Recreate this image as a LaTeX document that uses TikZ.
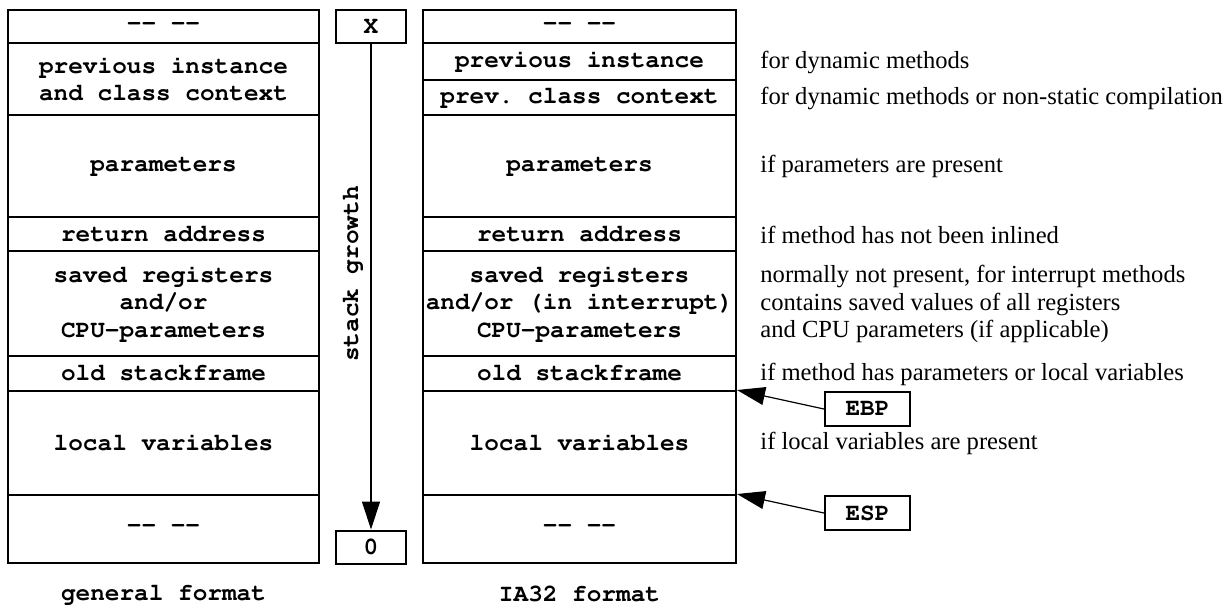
\documentclass[tikz,border=0pt]{standalone}
\usepackage[T1]{fontenc}
\usepackage{fontspec}
\setmainfont{Liberation Serif}
\usetikzlibrary{arrows.meta}
\newcommand\courbf{\fontencoding{T1}\fontfamily{pcr}\fontseries{b}\fontsize{12.2}{13.8}\selectfont\frenchspacing}

\begin{document}
\begin{tikzpicture}[
    x=0.5pt, y=-0.5pt,
    cell/.style={rectangle, draw, line width=1pt, inner sep=0pt, align=center, font=\courbf},
    gcell/.style={cell, minimum width=155.5pt},
    icell/.style={cell, minimum width=156.5pt},
    tag/.style={cell, minimum width=35pt, minimum height=16.5pt},
    note/.style={anchor=west, inner sep=0pt, align=left, font=\fontsize{12.3}{13.8}\selectfont},
    arr/.style={-{Triangle[length=14pt, width=9pt]}, line width=0.6pt},
  ]
  \useasboundingbox (0,0) rectangle (1229,607);

  % general format
  \node[gcell, minimum height=16.5pt] (g-free) at (163.5,26.5) {-{}- -{}-};
  \node[gcell, minimum height=36pt] (g-ctx) at (163.5,79) {previous instance\\and class context};
  \node[gcell, minimum height=51pt] (g-par) at (163.5,166) {parameters};
  \node[gcell, minimum height=17pt] (g-ret) at (163.5,234) {return address};
  \node[gcell, minimum height=52.5pt] (g-reg) at (163.5,303.5) {saved registers\\and/or\\CPU-parameters};
  \node[gcell, minimum height=17.5pt] (g-old) at (163.5,373.5) {old stackframe};
  \node[gcell, minimum height=52pt] (g-loc) at (163.5,443) {local variables};
  \node[gcell, minimum height=34pt] (g-end) at (163.5,529) {-{}- -{}-};
  \node[cell, draw=none] (g-title) at (163.5,594) {general format};

  % stack growth
  \node[tag] (top) at (371,26.5) {X};
  \node[tag] (zero) at (371,547) {0};
  \node[cell, draw=none, rotate=90] (growth) at (352,274) {stack growth};
  \draw[arr] (top) -- (zero);

  % IA32 format
  \node[icell, minimum height=16.5pt] (i-free) at (579.5,26.5) {-{}- -{}-};
  \node[icell, minimum height=18.5pt] (i-inst) at (579.5,61.5) {previous instance};
  \node[icell, minimum height=17.5pt] (i-cls) at (579.5,97.5) {prev. class context};
  \node[icell, minimum height=51pt] (i-par) at (579.5,166) {parameters};
  \node[icell, minimum height=17pt] (i-ret) at (579.5,234) {return address};
  \node[icell, minimum height=52.5pt] (i-reg) at (579.5,303.5) {saved registers\\and/or (in interrupt)\\CPU-parameters};
  \node[icell, minimum height=17.5pt] (i-old) at (579.5,373.5) {old stackframe};
  \node[icell, minimum height=52pt] (i-loc) at (579.5,443) {local variables};
  \node[icell, minimum height=34pt] (i-end) at (579.5,529) {-{}- -{}-};
  \node[cell, draw=none] (i-title) at (579.5,594) {IA32 format};

  % notes
  \node[note] (n-inst) at (760,62) {for dynamic methods};
  \node[note] (n-cls) at (760,98) {for dynamic methods or non-static compilation};
  \node[note] (n-par) at (760,166) {if parameters are present};
  \node[note] (n-ret) at (760,235) {if method has not been inlined};
  \node[note] (n-reg) at (760,304) {normally not present, for interrupt methods\\contains saved values of all registers\\and CPU parameters (if applicable)};
  \node[note] (n-old) at (760,374) {if method has parameters or local variables};
  \node[note] (n-loc) at (760,443) {if local variables are present};

  % registers
  \node[tag, minimum width=42.5pt, minimum height=17pt] (ebp) at (867.5,409) {EBP};
  \node[tag, minimum width=42.5pt, minimum height=17pt] (esp) at (867.5,513) {ESP};
  \draw[arr] (ebp.west) -- (i-loc.north east);
  \draw[arr] (esp.west) -- (i-end.north east);

\end{tikzpicture}
\end{document}
